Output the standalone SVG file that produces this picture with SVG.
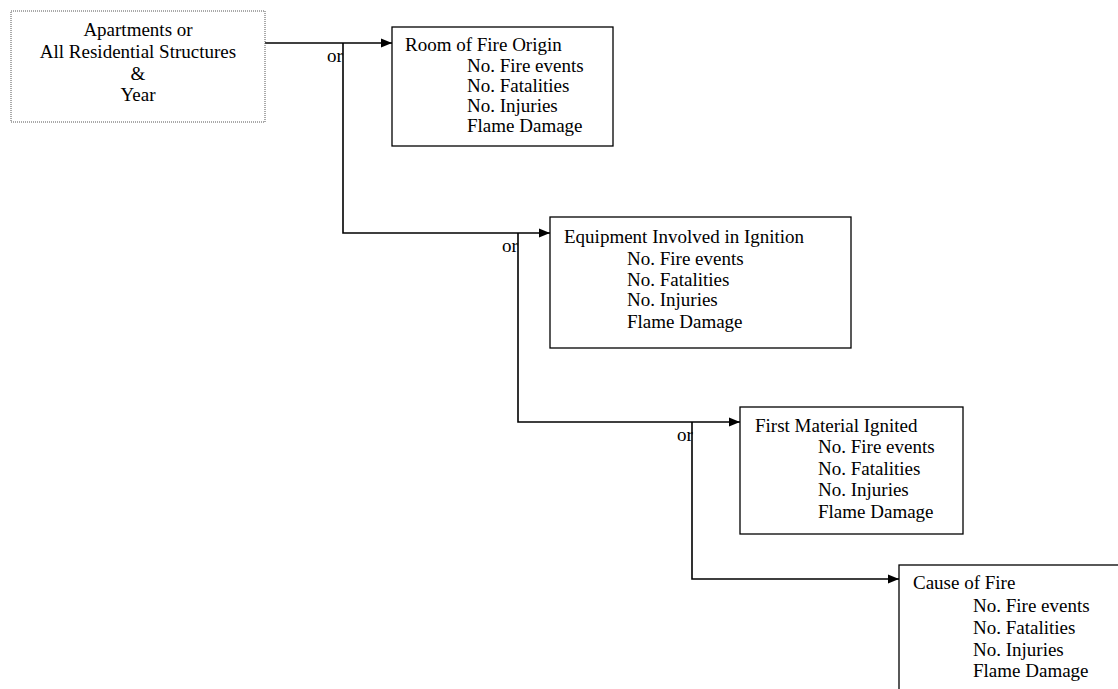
<svg xmlns="http://www.w3.org/2000/svg" width="1118" height="689" viewBox="0 0 1118 689">
<style>
text{font-family:'Liberation Serif',serif;font-size:19px;fill:#000}
.box{fill:#fff;stroke:#000;stroke-width:1.3}
.dot{fill:#fff;stroke:#555;stroke-width:1;stroke-dasharray:1,1}
.conn{fill:none;stroke:#000;stroke-width:1.6}
.c{text-anchor:middle}
</style>
<defs>
<marker id="ah" markerUnits="userSpaceOnUse" markerWidth="11" markerHeight="10" refX="11" refY="5" orient="auto">
<path d="M0,0.5 L11,5 L0,9.5 z" fill="#000"/>
</marker>
</defs>
<rect x="0" y="0" width="1118" height="689" fill="#fff"/>
<g id="connectors">
<path class="conn" d="M265,43 H392" marker-end="url(#ah)"/>
<path class="conn" d="M343,43 V233 H550" marker-end="url(#ah)"/>
<path class="conn" d="M518,233 V422 H740" marker-end="url(#ah)"/>
<path class="conn" d="M692,422 V579 H899" marker-end="url(#ah)"/>
<text x="327" y="62" font-family="Liberation Serif, serif">or</text>
<text x="502" y="252" font-family="Liberation Serif, serif">or</text>
<text x="677" y="441" font-family="Liberation Serif, serif">or</text>
</g>
<g id="node-start" font-family="Liberation Serif, serif">
<rect class="dot" x="11" y="11" width="254" height="111"/>
<text class="c" x="138" y="36">Apartments or</text>
<text class="c" x="138" y="58">All Residential Structures</text>
<text class="c" x="138" y="80">&amp;</text>
<text class="c" x="138" y="101">Year</text>
</g>
<g id="node-room">
<rect class="box" x="392" y="27" width="221" height="119"/>
<text x="405" y="51">Room of Fire Origin</text>
<text x="467" y="72">No. Fire events</text>
<text x="467" y="92">No. Fatalities</text>
<text x="467" y="112">No. Injuries</text>
<text x="467" y="132">Flame Damage</text>
</g>
<g id="node-equipment">
<rect class="box" x="550" y="217" width="301" height="131"/>
<text x="564" y="243">Equipment Involved in Ignition</text>
<text x="627" y="265">No. Fire events</text>
<text x="627" y="286">No. Fatalities</text>
<text x="627" y="306">No. Injuries</text>
<text x="627" y="328">Flame Damage</text>
</g>
<g id="node-material">
<rect class="box" x="740" y="407" width="223" height="127"/>
<text x="755" y="432">First Material Ignited</text>
<text x="818" y="453">No. Fire events</text>
<text x="818" y="475">No. Fatalities</text>
<text x="818" y="496">No. Injuries</text>
<text x="818" y="518">Flame Damage</text>
</g>
<g id="node-cause">
<rect class="box" x="899" y="565" width="240" height="150"/>
<text x="913" y="589">Cause of Fire</text>
<text x="973" y="612">No. Fire events</text>
<text x="973" y="634">No. Fatalities</text>
<text x="973" y="656">No. Injuries</text>
<text x="973" y="677">Flame Damage</text>
</g>
</svg>
